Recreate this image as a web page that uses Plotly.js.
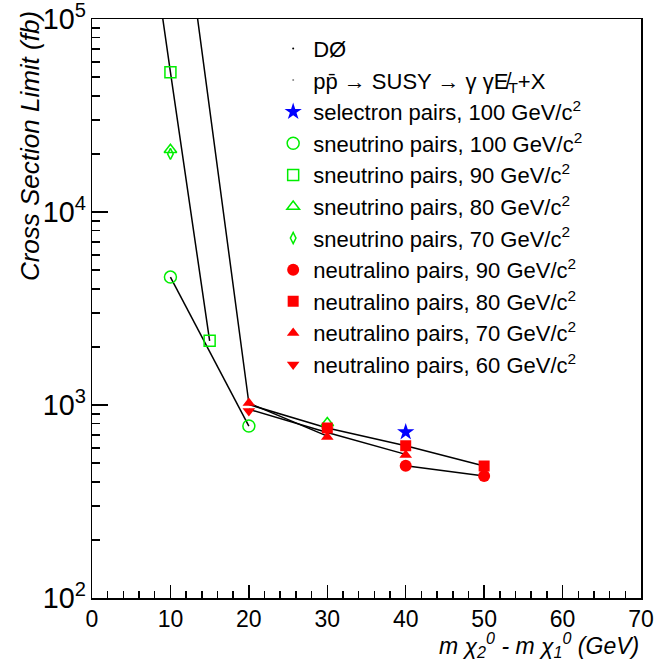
<!DOCTYPE html>
<html>
<head>
<meta charset="utf-8">
<script src="https://cdn.plot.ly/plotly-3.0.1.min.js"></script>
<style>html,body{margin:0;padding:0;background:#fff;}#chart{width:669px;height:660px;}</style>
</head>
<body>
<div id="chart"></div>
<script>
// ---- marker series (mass difference in GeV, cross-section limit in fb) ----
const selectron100_x = [40];
const selectron100_y = [724];
const sneutrino100_x = [10, 20];
const sneutrino100_y = [4600, 778];
const sneutrino90_x = [10, 15];
const sneutrino90_y = [53000, 2150];
const sneutrino80_x = [10, 30];
const sneutrino80_y = [21000, 807];
const sneutrino70_x = [10];
const sneutrino70_y = [20000];
const neutralino90_x = [40, 50];
const neutralino90_y = [484, 429];
const neutralino80_x = [30, 40, 50];
const neutralino80_y = [760, 615, 483];
const neutralino70_x = [20, 30, 40];
const neutralino70_y = [1023, 683, 550];
const neutralino60_x = [20, 30];
const neutralino60_y = [931, 741];

// ---- connecting limit curves ----
const curveA_x = [5, 10, 15];
const curveA_y = [1400000, 53000, 2150];
const curveB_x = [10, 20];
const curveB_y = [4600, 778];
const curveC_x = [10, 20, 30];
const curveC_y = [1140000, 1023, 690];
const curveD_x = [20, 30, 40, 50];
const curveD_y = [1005, 760, 615, 483];
const curveE_x = [20, 30, 40];
const curveE_y = [950, 720, 555];
const curveF_x = [40, 50];
const curveF_y = [484, 429];

// ---- labels ----
const legendNames = [
  "DØ",
  "pp̄ → SUSY → γ γE̸<sub>T</sub>+X",
  "selectron pairs, 100 GeV/c<sup>2</sup>",
  "sneutrino pairs, 100 GeV/c<sup>2</sup>",
  "sneutrino pairs, 90 GeV/c<sup>2</sup>",
  "sneutrino pairs, 80 GeV/c<sup>2</sup>",
  "sneutrino pairs, 70 GeV/c<sup>2</sup>",
  "neutralino pairs, 90 GeV/c<sup>2</sup>",
  "neutralino pairs, 80 GeV/c<sup>2</sup>",
  "neutralino pairs, 70 GeV/c<sup>2</sup>",
  "neutralino pairs, 60 GeV/c<sup>2</sup>"
];
const xTitle = "<i>m χ<sub>2</sub><sup>0</sup> - m χ<sub>1</sub><sup>0</sup> (GeV)</i>";
const yTitle = "<i>Cross Section Limit (fb)</i>";

const GREEN = "#00ee00", RED = "#ff0000", BLUE = "#0000ff";
const FONT = "Liberation Sans, Arial, Helvetica, sans-serif";

function curve(x, y) {
  return {x: x, y: y, mode: "lines", type: "scatter", showlegend: false,
          hoverinfo: "skip", line: {color: "#000", width: 1.5}};
}
function pts(x, y, name, symbol, color, size, open) {
  return {x: x, y: y, mode: "markers", type: "scatter", name: name,
          marker: {symbol: symbol, size: size, color: color,
                   line: {color: color, width: open ? 1.5 : 0}}};
}

const traces = [
  curve(curveA_x, curveA_y), curve(curveB_x, curveB_y), curve(curveC_x, curveC_y),
  curve(curveD_x, curveD_y), curve(curveE_x, curveE_y), curve(curveF_x, curveF_y),
  {x: [null], y: [null], mode: "markers", type: "scatter", name: legendNames[0],
   marker: {size: 2, color: "#000"}},
  {x: [null], y: [null], mode: "markers", type: "scatter", name: legendNames[1],
   marker: {size: 2, color: "#888"}},
  pts(selectron100_x, selectron100_y, legendNames[2], "star", BLUE, 13, false),
  pts(sneutrino100_x, sneutrino100_y, legendNames[3], "circle-open", GREEN, 12, true),
  pts(sneutrino90_x, sneutrino90_y, legendNames[4], "square-open", GREEN, 11, true),
  pts(sneutrino80_x, sneutrino80_y, legendNames[5], "triangle-up-open", GREEN, 11, true),
  pts(sneutrino70_x, sneutrino70_y, legendNames[6], "diamond-tall-open", GREEN, 8, true),
  pts(neutralino90_x, neutralino90_y, legendNames[7], "circle", RED, 12, false),
  pts(neutralino80_x, neutralino80_y, legendNames[8], "square", RED, 11, false),
  pts(neutralino70_x, neutralino70_y, legendNames[9], "triangle-up", RED, 11, false),
  pts(neutralino60_x, neutralino60_y, legendNames[10], "triangle-down", RED, 11, false)
];

const layout = {
  width: 669, height: 660,
  margin: {l: 92, r: 28, t: 19, b: 62},
  paper_bgcolor: "#fff", plot_bgcolor: "#fff",
  font: {family: FONT, color: "#000", size: 22},
  showlegend: true,
  legend: {x: 0.33, xanchor: "left", y: 0.985, yanchor: "top",
           bgcolor: "rgba(0,0,0,0)", borderwidth: 0,
           font: {family: FONT, size: 22, color: "#000"},
           itemclick: false, itemdoubleclick: false},
  xaxis: {range: [0, 70], tickmode: "linear", tick0: 0, dtick: 10, ticks: "inside", ticklen: 13,
          tickwidth: 1.5, tickcolor: "#000", showgrid: false, zeroline: false,
          showline: true, linecolor: "#000", linewidth: 1.5, mirror: true,
          tickfont: {family: FONT, size: 23},
          minor: {tickmode: "linear", tick0: 0, dtick: 2, ticks: "inside", ticklen: 7,
                  tickwidth: 1.5, tickcolor: "#000", showgrid: false}},
  yaxis: {type: "log", range: [2, 5], dtick: 1, exponentformat: "power",
          ticklabeloverflow: "allow",
          ticks: "inside", ticklen: 16, tickwidth: 1.5, tickcolor: "#000",
          showgrid: false, zeroline: false, showline: true, linecolor: "#000",
          linewidth: 1.5, mirror: true, tickfont: {family: FONT, size: 23},
          minor: {dtick: "D1", ticks: "inside", ticklen: 8, tickwidth: 1.5, tickcolor: "#000", showgrid: false}},
  annotations: [
    {text: yTitle, xref: "paper", yref: "paper", x: -0.113, y: 1.017,
     xanchor: "center", yanchor: "top", textangle: -90, showarrow: false,
     font: {family: FONT, size: 26, color: "#000"}},
    {text: xTitle, xref: "paper", yref: "paper", x: 1.0, y: -0.082,
     xanchor: "right", yanchor: "middle", showarrow: false,
     font: {family: FONT, size: 23, color: "#000"}}
  ]
};

Plotly.newPlot("chart", traces, layout, {staticPlot: true, displayModeBar: false});
</script>
</body>
</html>
